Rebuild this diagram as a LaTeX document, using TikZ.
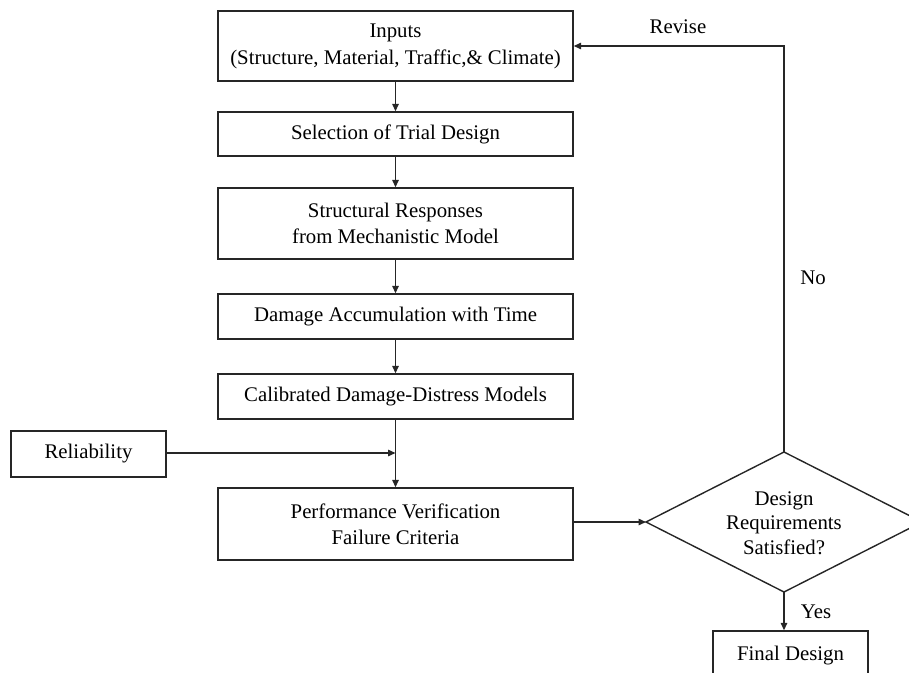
\documentclass[tikz,border=0pt]{standalone}
\usepackage{fontspec}
\setmainfont{Liberation Serif}
\usetikzlibrary{arrows.meta}
\begin{document}
\begin{tikzpicture}[x=1pt,y=-1pt,
  every node/.style={font=\fontsize{20.8}{26}\selectfont, text=black},
  mainbox/.style={draw=black!85, line width=1.4pt, minimum width=355pt, inner sep=0pt, align=center},
  smallbox/.style={draw=black!85, line width=1.4pt, inner sep=0pt, align=center},
  conn/.style={draw=black!85, line width=1.4pt},
  arr/.style={conn, -{Triangle[length=7.5pt,width=6.5pt]}},
  lbl/.style={inner sep=0pt}
]
\useasboundingbox (0,0) rectangle (909,672);

\node[mainbox, minimum height=70pt, font=\fontsize{20.8}{27}\selectfont] (inputs) at (395.5,46) {Inputs\\(Structure, Material, Traffic,\& Climate)};
\node[mainbox, minimum height=44pt] (sel) at (395.5,134) {Selection of Trial Design};
\node[mainbox, minimum height=71pt] (struct) at (395.5,223.5) {Structural Responses\\from Mechanistic Model};
\node[mainbox, minimum height=45pt] (damage) at (395.5,316.5) {Damage Accumulation with Time};
\node[mainbox, minimum height=45pt] (calib) at (395.5,396.5) {Calibrated Damage-Distress Models};
\node[mainbox, minimum height=72pt] (perf) at (395.5,524) {Performance Verification\\Failure Criteria};
\node[smallbox, minimum width=155pt, minimum height=46pt] (rel) at (88.5,454) {Reliability};
\node[smallbox, minimum width=155pt, minimum height=50pt] (final) at (790.5,656) {Final Design};

% decision diamond
\coordinate (dW) at (646,522);
\coordinate (dN) at (784,452);
\coordinate (dE) at (922,522);
\coordinate (dS) at (784,592);
\draw[conn, line join=miter] (dW) -- (dN) -- (dE) -- (dS) -- cycle;
\node[lbl, align=center, font=\fontsize{20.8}{24.5}\selectfont] (dtext) at (784,523) {Design\\Requirements\\Satisfied?};

\coordinate (J) at (395.5,453);
\coordinate (top) at (784,46);

\draw[arr] (inputs) -- (sel);
\draw[arr] (sel) -- (struct);
\draw[arr] (struct) -- (damage);
\draw[arr] (damage) -- (calib);
\draw[arr] (calib) -- (perf);
\draw[arr] (rel.east |- J) -- (J);
\draw[arr] (perf.east |- dW) -- (dW);
\draw[arr] (dS) -- (final.north -| dS);
\draw[arr] (dN) -- (top) -- (inputs.east);

\node[lbl] (revise) at (678,27) {Revise};
\node[lbl] (no) at (813,278) {No};
\node[lbl] (yes) at (816,612) {Yes};
\end{tikzpicture}
\end{document}
